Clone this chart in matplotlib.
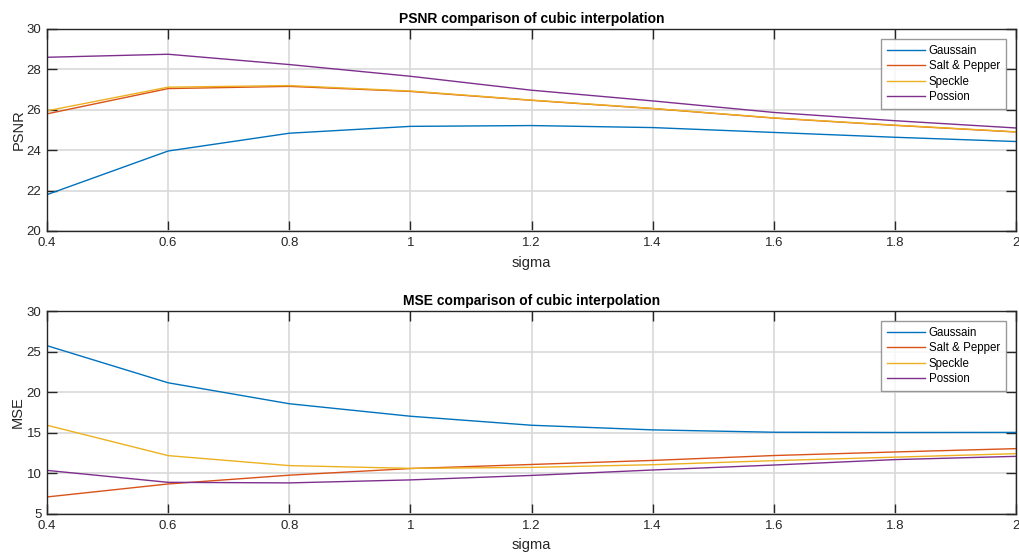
import matplotlib
matplotlib.use("Agg")
import matplotlib.pyplot as plt

plt.rcParams['font.family'] = ['Liberation Sans', 'DejaVu Sans']

sigma = [0.4, 0.6, 0.8, 1.0, 1.2, 1.4, 1.6, 1.8, 2.0]
labels = ['Gaussain', 'Salt & Pepper', 'Speckle', 'Possion']

psnr_gaussian = [21.8, 23.96, 24.84, 25.18, 25.22, 25.12, 24.88, 24.64, 24.43]
psnr_saltpepper = [25.8, 27.05, 27.16, 26.91, 26.47, 26.06, 25.59, 25.23, 24.9]
psnr_speckle = [25.95, 27.12, 27.2, 26.93, 26.48, 26.07, 25.6, 25.24, 24.91]
psnr_poisson = [28.6, 28.75, 28.24, 27.66, 26.97, 26.44, 25.87, 25.46, 25.1]

mse_gaussian = [25.73, 21.16, 18.58, 17.04, 15.93, 15.36, 15.07, 15.04, 15.05]
mse_saltpepper = [7.1, 8.7, 9.78, 10.6, 11.1, 11.6, 12.2, 12.64, 13.05]
mse_speckle = [15.93, 12.19, 10.96, 10.62, 10.74, 11.07, 11.57, 12.0, 12.43]
mse_poisson = [10.37, 8.9, 8.83, 9.2, 9.75, 10.42, 11.03, 11.7, 12.1]

colors = ['#0072BD', '#D95319', '#EDB120', '#7E2F8E']

fig = plt.figure(figsize=(10.19, 5.52), dpi=100)
ax1 = fig.add_axes([47/1019, 1-231/552, 969/1019, 202/552])
ax2 = fig.add_axes([47/1019, 1-514/552, 969/1019, 203/552])

def style(ax, ylim, yticks, ylabel, title):
    ax.set_xlim(0.4, 2.0)
    ax.set_ylim(*ylim)
    ax.set_xticks(sigma)
    ax.set_xticklabels(['0.4', '0.6', '0.8', '1', '1.2', '1.4', '1.6', '1.8', '2'])
    ax.set_yticks(yticks)
    ax.grid(True, color='#d9d9d9', linewidth=1.2)
    ax.set_axisbelow(True)
    ax.tick_params(direction='in', length=7, width=1, top=True, right=True,
                   labelsize=9.5, colors='#262626', pad=4)
    for s in ax.spines.values():
        s.set_color('#262626')
        s.set_linewidth(1)
    ax.set_xlabel('sigma', fontsize=10.5, color='#262626', labelpad=5)
    ax.set_ylabel(ylabel, fontsize=10.5, color='#262626', labelpad=1)
    ax.set_title(title, fontsize=10, fontweight='bold', color='#000000', pad=4)
    leg = ax.legend(loc='upper right', fontsize=8.3, frameon=True, fancybox=False,
                    borderaxespad=0.9, handlelength=3.3, handletextpad=0.3,
                    labelspacing=0.28, borderpad=0.5)
    leg.get_frame().set_edgecolor('#808080')
    leg.get_frame().set_linewidth(1)

for ys, c, l in zip([psnr_gaussian, psnr_saltpepper, psnr_speckle, psnr_poisson], colors, labels):
    ax1.plot(sigma, ys, color=c, linewidth=1.0, label=l)
style(ax1, (20, 30), [20, 22, 24, 26, 28, 30], 'PSNR', 'PSNR comparison of cubic interpolation')

for ys, c, l in zip([mse_gaussian, mse_saltpepper, mse_speckle, mse_poisson], colors, labels):
    ax2.plot(sigma, ys, color=c, linewidth=1.0, label=l)
style(ax2, (5, 30), [5, 10, 15, 20, 25, 30], 'MSE', 'MSE comparison of cubic interpolation')

fig.savefig('out.png', dpi=100)
